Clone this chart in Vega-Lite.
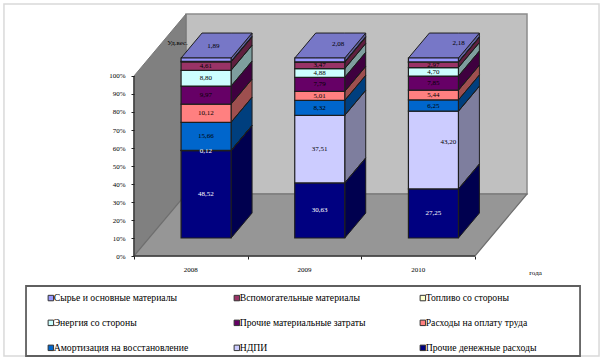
{
"$schema":"https://vega.github.io/schema/vega-lite/v6.json",
"width":606,"height":363,"autosize":"none","padding":0,"background":"white",
"config":{"view":{"stroke":null},"font":"Liberation Serif"},
"datasets":{
"segments":[
{"year":2008,"rank":1,"cat":"Прочие  денежные расходы","value":48.52},
{"year":2008,"rank":2,"cat":"НДПИ","value":0.12},
{"year":2008,"rank":3,"cat":"Амортизация на восстановление","value":15.66},
{"year":2008,"rank":4,"cat":"Расходы на оплату  труда","value":10.12},
{"year":2008,"rank":5,"cat":"Прочие материальные  затраты","value":9.97},
{"year":2008,"rank":6,"cat":"Энергия со стороны","value":8.80},
{"year":2008,"rank":7,"cat":"Вспомогательные материалы","value":4.61},
{"year":2008,"rank":8,"cat":"Топливо со стороны","value":0.31},
{"year":2008,"rank":9,"cat":"Сырье и основные материалы","value":1.89},
{"year":2009,"rank":1,"cat":"Прочие  денежные расходы","value":30.63},
{"year":2009,"rank":2,"cat":"НДПИ","value":37.51},
{"year":2009,"rank":3,"cat":"Амортизация на восстановление","value":8.32},
{"year":2009,"rank":4,"cat":"Расходы на оплату  труда","value":5.01},
{"year":2009,"rank":5,"cat":"Прочие материальные  затраты","value":7.79},
{"year":2009,"rank":6,"cat":"Энергия со стороны","value":4.88},
{"year":2009,"rank":7,"cat":"Вспомогательные материалы","value":3.47},
{"year":2009,"rank":8,"cat":"Топливо со стороны","value":0.31},
{"year":2009,"rank":9,"cat":"Сырье и основные материалы","value":2.08},
{"year":2010,"rank":1,"cat":"Прочие  денежные расходы","value":27.25},
{"year":2010,"rank":2,"cat":"НДПИ","value":43.20},
{"year":2010,"rank":3,"cat":"Амортизация на восстановление","value":6.25},
{"year":2010,"rank":4,"cat":"Расходы на оплату  труда","value":5.44},
{"year":2010,"rank":5,"cat":"Прочие материальные  затраты","value":7.85},
{"year":2010,"rank":6,"cat":"Энергия со стороны","value":4.70},
{"year":2010,"rank":7,"cat":"Вспомогательные материалы","value":2.97},
{"year":2010,"rank":8,"cat":"Топливо со стороны","value":0.16},
{"year":2010,"rank":9,"cat":"Сырье и основные материалы","value":2.18}
],
"panels":[
{"panel":"left","u":0,"d":0,"top":100,"dTop":0,"bot":0,"dBot":0},
{"panel":"left","u":0,"d":1,"top":100,"dTop":1,"bot":0,"dBot":1},
{"panel":"back","u":0,"d":1,"top":100,"dTop":1,"bot":0,"dBot":1},
{"panel":"back","u":3,"d":1,"top":100,"dTop":1,"bot":0,"dBot":1},
{"panel":"floor","u":0,"d":0,"top":0,"dTop":0,"bot":0,"dBot":0},
{"panel":"floor","u":0,"d":1,"top":0,"dTop":1,"bot":0,"dBot":0},
{"panel":"floor","u":3,"d":0,"top":0,"dTop":1,"bot":0,"dBot":0},
{"panel":"floor","u":3,"d":1,"top":0,"dTop":1,"bot":0,"dBot":1}
],
"boxes":[
{"box":"frame","u0":-1.144,"u1":4.091,"v0":-55.56,"v1":140},
{"box":"legend","u0":-0.95,"u1":3.924,"v0":-55.56,"v1":-16.67}
],
"axisLines":[
{"u0":0,"u1":3,"v0":0,"v1":0},
{"u0":0,"u1":0,"v0":0,"v1":100}
]
},
"encoding":{
"x":{"field":"X","type":"quantitative","title":"года","scale":{"domain":[-1.17887,4.15237],"nice":false,"zero":false},
"axis":{"values":[0,1,2,3],"labels":false,"grid":false,"domain":false,"offset":-107,"tickSize":3,"tickColor":"#222","zindex":1,"titleFont":"Liberation Serif","titleFontSize":7,"titleFontWeight":"normal","titleColor":"#000","titleX":535,"titleY":12}},
"y":{"field":"Y","type":"quantitative","stack":null,"title":"Уд.вес.","scale":{"domain":[-59.444,142.222],"nice":false,"zero":false},
"axis":{"values":[0,10,20,30,40,50,60,70,80,90,100],"labelExpr":"datum.value+'%'","grid":false,"domain":false,"offset":-134,"tickSize":3,"tickColor":"#222","labelFont":"Liberation Serif","labelFontSize":7,"labelColor":"#000","labelPadding":6,"zindex":1,"titleFont":"Liberation Serif","titleFontSize":7,"titleFontWeight":"normal","titleColor":"#000","titleAngle":0,"titleAlign":"center","titleX":43,"titleY":45}}
},
"layer":[
{"data":{"name":"boxes"},"transform":[{"filter":"datum.box=='frame'"},{"calculate":"datum.u0","as":"X"},{"calculate":"datum.u1","as":"X2"},{"calculate":"datum.v1","as":"Y"},{"calculate":"datum.v0","as":"Y2"}],
 "mark":{"type":"rect","fill":"white","stroke":"#d9d9d9","strokeWidth":1.5},
 "encoding":{"x2":{"field":"X2"},"y2":{"field":"Y2"}}},
{"data":{"name":"boxes"},"transform":[{"filter":"datum.box=='legend'"},{"calculate":"datum.u0","as":"X"},{"calculate":"datum.u1","as":"X2"},{"calculate":"datum.v1","as":"Y"},{"calculate":"datum.v0","as":"Y2"}],
 "mark":{"type":"rect","fill":"white","stroke":"#5f5f5f","strokeWidth":1.8},
 "encoding":{"x2":{"field":"X2"},"y2":{"field":"Y2"}}},
{"data":{"name":"panels"},
 "transform":[{"calculate":"datum.u+0.4575*datum.d","as":"X"},{"calculate":"datum.top+34.44*datum.dTop","as":"Y"},{"calculate":"datum.bot+34.44*datum.dBot","as":"Y2"}],
 "layer":[
 {"transform":[{"filter":"datum.panel=='back'"}],"mark":{"type":"area","orient":"vertical","fill":"#c0c0c0","stroke":"#8c8c8c","strokeWidth":1.5},"encoding":{"y2":{"field":"Y2"}}},
 {"transform":[{"filter":"datum.panel=='left'"}],"mark":{"type":"area","orient":"vertical","fill":"#808080","stroke":"#777777","strokeWidth":1},"encoding":{"y2":{"field":"Y2"}}},
 {"transform":[{"filter":"datum.panel=='floor'"}],"mark":{"type":"area","orient":"vertical","fill":"#969696","stroke":"#6e6e6e","strokeWidth":1.2},"encoding":{"y2":{"field":"Y2"}}}
 ]},
{"data":{"name":"axisLines"},"transform":[{"calculate":"datum.u0","as":"X"},{"calculate":"datum.u1","as":"X2"},{"calculate":"datum.v0","as":"Y"},{"calculate":"datum.v1","as":"Y2"}],
 "mark":{"type":"rule","stroke":"#3c3c3c","strokeWidth":1.5},
 "encoding":{"x2":{"field":"X2"},"y2":{"field":"Y2"}}},
{"data":{"name":"segments"},
 "transform":[
 {"stack":"value","groupby":["year"],"sort":[{"field":"rank","order":"ascending"}],"as":["v0","v1"]},
 {"calculate":"datum.year-2008","as":"i"},
 {"calculate":"datum.i+0.2815","as":"u0"},
 {"calculate":"datum.i+0.7215","as":"u1"},
 {"calculate":"datum.year+'-'+datum.rank","as":"key"}
 ],
 "layer":[
 {"transform":[{"calculate":"[0,1]","as":"corner"},{"flatten":["corner"]},
   {"calculate":"datum.corner==0?0.29:0.693","as":"d"},
   {"calculate":"datum.u1+0.4575*datum.d","as":"X"},
   {"calculate":"datum.v1+34.44*datum.d","as":"Y"},
   {"calculate":"datum.v0+34.44*datum.d","as":"Y2"}],
  "layer":[
  {"mark":{"type":"area","orient":"vertical"},"encoding":{"y2":{"field":"Y2"},"detail":{"field":"key"},"color":{"field":"cat","type":"nominal"}}},
  {"mark":{"type":"area","orient":"vertical","fill":"#000","fillOpacity":0.38,"stroke":"#1e1e1e","strokeWidth":1},"encoding":{"y2":{"field":"Y2"},"detail":{"field":"key"}}}
  ]},
 {"transform":[{"filter":"datum.rank==9"},{"calculate":"[0,1,2,3]","as":"corner"},{"flatten":["corner"]},
   {"calculate":"datum.corner<2?datum.u0:datum.u1","as":"u"},
   {"calculate":"(datum.corner==0||datum.corner==2)?0.29:0.693","as":"d"},
   {"calculate":"datum.u+0.4575*datum.d","as":"X"},
   {"calculate":"100+34.44*(datum.corner==0?0.29:0.693)","as":"Y"},
   {"calculate":"100+34.44*(datum.corner==3?0.693:0.29)","as":"Y2"}],
  "layer":[
  {"mark":{"type":"area","orient":"vertical"},"encoding":{"y2":{"field":"Y2"},"detail":{"field":"key"},"color":{"field":"cat","type":"nominal"}}},
  {"mark":{"type":"area","orient":"vertical","fill":"#000","fillOpacity":0.22,"stroke":"#1e1e1e","strokeWidth":1},"encoding":{"y2":{"field":"Y2"},"detail":{"field":"key"}}}
  ]},
 {"transform":[{"calculate":"datum.u0+0.4575*0.29","as":"X"},{"calculate":"datum.u1+0.4575*0.29","as":"X2"},{"calculate":"datum.v1+34.44*0.29","as":"Y"},{"calculate":"datum.v0+34.44*0.29","as":"Y2"}],
  "mark":{"type":"rect","stroke":"#1e1e1e","strokeWidth":1.2},
  "encoding":{"x2":{"field":"X2"},"y2":{"field":"Y2"},
   "color":{"field":"cat","type":"nominal",
    "scale":{"domain":["Сырье и основные материалы","Вспомогательные материалы","Топливо со стороны","Энергия со стороны","Прочие материальные  затраты","Расходы на оплату  труда","Амортизация на восстановление","НДПИ","Прочие  денежные расходы"],
     "range":["#9999ff","#993366","#ffffcc","#ccffff","#660066","#ff8080","#0066cc","#ccccff","#000080"]},
    "legend":{"title":null,"orient":"none","legendX":46,"legendY":293,"direction":"horizontal","columns":3,"gridAlign":"all","symbolType":"square","symbolSize":30,"symbolStrokeColor":"#333","symbolStrokeWidth":1,"labelFont":"Liberation Serif","labelFontSize":9.7,"labelColor":"#000","labelLimit":200,"labelOffset":-2,"rowPadding":14,"columnPadding":43,"padding":0}}}},
 {"transform":[{"filter":"datum.rank!=8"},
   {"calculate":"replace(format(datum.value,'.2f'),'.',',')","as":"label"},
   {"calculate":"datum.rank==9?(datum.i+0.5+0.4575*0.4915+(datum.year==2008?-0.026:datum.year==2009?0.07:0.132)):(datum.i+0.5+0.4575*0.29+((datum.year==2010&&datum.rank==2)?0.132:0))","as":"X"},
   {"calculate":"datum.rank==9?(100+34.44*0.4915+(datum.year==2010?1.5:datum.year==2009?1:0)):((datum.v0+datum.v1)/2+34.44*0.29+((datum.year==2010&&datum.rank==2)?4.4:0))","as":"Y"}],
  "mark":{"type":"text","font":"Liberation Serif","fontSize":7,"align":"center","baseline":"middle"},
  "encoding":{"text":{"field":"label"},"color":{"condition":{"test":"datum.rank<=2&&datum.year==2008||datum.rank==1","value":"#ffffff"},"value":"#000000"}}},
 {"transform":[{"filter":"datum.rank==9"},{"calculate":"datum.i+0.5","as":"X"},{"calculate":"-7.8","as":"Y"}],
  "mark":{"type":"text","font":"Liberation Serif","fontSize":7,"align":"center","baseline":"middle","color":"#000"},
  "encoding":{"text":{"field":"year","type":"nominal"}}}
 ]}
]
}
